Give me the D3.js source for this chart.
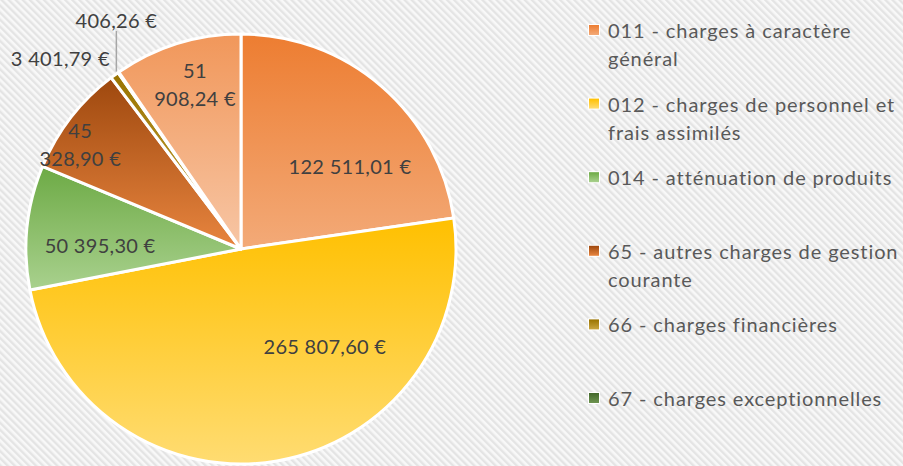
<!DOCTYPE html>
<html>
<head>
<meta charset="utf-8">
<script src="https://cdn.jsdelivr.net/npm/d3@7"></script>
<style>
  html, body { margin: 0; padding: 0; background: #fff; }
  svg { display: block; font-family: Lato, "Open Sans", sans-serif; }
</style>
</head>
<body>
<svg id="chart" width="903" height="466"></svg>
<script>
// données : chapitres budgétaires (dépenses)
const chapters = [
  "011 - charges à caractère général",
  "012 - charges de personnel et frais assimilés",
  "014 - atténuation de produits",
  "65 - autres charges de gestion courante",
  "66 - charges financières",
  "67 - charges exceptionnelles",
  "042 - opérations d'ordre de transfert entre sections"
];
const amounts = [122511.01, 265807.60, 50395.30, 45328.90, 3401.79, 406.26, 51908.24];
const legendLines = [
  ["011 - charges à caractère", "général"],
  ["012 - charges de personnel et", "frais assimilés"],
  ["014 - atténuation de produits"],
  ["65 - autres charges de gestion", "courante"],
  ["66 - charges financières"],
  ["67 - charges exceptionnelles"],
  ["042 - opérations d'ordre de", "transfert entre sections"]
];

// dégradés (haut -> bas)
const gradTop = ["#ED7D31", "#FFC000", "#6DAA45", "#9E480E", "#997300", "#43682B", "#F1975A"];
const gradBottom = ["#F3AA78", "#FFDC72", "#A9D18E", "#E8853F", "#C9A640", "#6E9450", "#F7C6A5"];

// placement des étiquettes (décalage d'angle en degrés, distance au centre, retour à la ligne)
const labelPlacement = [
  { da: 11.8, d: 137, wrap: false, outside: false },
  { da: -31.3, d: 128, wrap: false, outside: false },
  { da: -4.2, d: 141, wrap: false, outside: false },
  { da: -4.6, d: 192, wrap: true, outside: false },
  { da: 1.6, d: 232, wrap: false, outside: "end" },
  { da: 0, d: 0, wrap: false, outside: "leader" },
  { da: 1.7, d: 171, wrap: true, outside: false }
];

const W = 903, H = 466;
const cx = 241, cy = 249, R = 215;

const fr = d3.formatLocale({ decimal: ",", thousands: " ", grouping: [3], currency: ["", " €"] });
const fmt = v => fr.format(",.2f")(v) + " €";

const svg = d3.select("#chart");
const defs = svg.append("defs");

// fond hachuré
const pat = defs.append("pattern")
  .attr("id", "hatch").attr("patternUnits", "userSpaceOnUse")
  .attr("width", 5).attr("height", 5)
  .attr("patternTransform", "rotate(-45)");
pat.append("rect").attr("width", 5).attr("height", 5).attr("fill", "#F8F8F8");
pat.append("rect").attr("width", 2.4).attr("height", 5).attr("fill", "#E4E4E4");
svg.append("rect").attr("width", W).attr("height", H).attr("fill", "url(#hatch)");

chapters.forEach((c, i) => {
  const g = defs.append("linearGradient").attr("id", "grad" + i)
    .attr("x1", 0).attr("y1", 0).attr("x2", 0).attr("y2", 1);
  g.append("stop").attr("offset", "0%").attr("stop-color", gradTop[i]);
  g.append("stop").attr("offset", "100%").attr("stop-color", gradBottom[i]);
});

const data = chapters.map((c, i) => ({ name: c, value: amounts[i], i }));
const pie = d3.pie().value(d => d.value).sort(null);
const arcs = pie(data);
const arc = d3.arc().innerRadius(0).outerRadius(R);

const gPie = svg.append("g").attr("transform", `translate(${cx},${cy})`);
gPie.selectAll("path").data(arcs).join("path")
  .attr("d", arc)
  .attr("fill", d => `url(#grad${d.data.i})`)
  .attr("stroke", "#fff").attr("stroke-width", 3).attr("stroke-linejoin", "round");

// étiquettes
const polar = (a, d) => [Math.sin(a) * d, -Math.cos(a) * d];
const labels = svg.append("g").attr("transform", `translate(${cx},${cy})`)
  .attr("font-size", 20).attr("letter-spacing", 0.3).attr("fill", "#404040");

arcs.forEach((a, k) => {
  const p = labelPlacement[k];
  const mid = (a.startAngle + a.endAngle) / 2;
  const txt = fmt(a.data.value);
  if (p.outside === "leader") {
    const [x0, y0] = polar(mid, R + 1);
    const yTop = -R - 3;
    labels.append("line")
      .attr("x1", x0 - 1.5).attr("y1", y0).attr("x2", x0 - 1.5).attr("y2", yTop)
      .attr("stroke", "#A6A6A6").attr("stroke-width", 1.5);
    labels.append("text").attr("x", x0 - 1.5).attr("y", yTop - 11)
      .attr("text-anchor", "middle").attr("dominant-baseline", "central").text(txt);
    return;
  }
  const [x, y] = polar(mid + p.da * Math.PI / 180, p.d);
  const t = labels.append("text").attr("x", x).attr("y", y)
    .attr("text-anchor", p.outside === "end" ? "end" : "middle")
    .attr("dominant-baseline", "central");
  if (p.wrap) {
    const parts = txt.split(" ");
    const first = parts[0], rest = parts.slice(1).join(" ");
    t.append("tspan").attr("x", x).attr("y", y - 14).text(first);
    t.append("tspan").attr("x", x).attr("y", y + 14).text(rest);
  } else {
    t.text(txt);
  }
});

// légende
const step = 73.6;
const legend = svg.append("g").attr("font-size", 20).attr("letter-spacing", 0.9).attr("fill", "#595959");
legendLines.forEach((lines, i) => {
  const y0 = 30 + i * step;
  const item = legend.append("g");
  item.append("rect").attr("x", 588).attr("y", y0 - 6).attr("width", 12).attr("height", 12).attr("fill", "#fff");
  item.append("rect").attr("x", 589).attr("y", y0 - 5).attr("width", 10).attr("height", 10)
    .attr("fill", `url(#grad${i})`);
  lines.forEach((ln, j) => {
    item.append("text").attr("x", 608).attr("y", y0 + j * 28)
      .attr("dominant-baseline", "central").text(ln);
  });
});
</script>
</body>
</html>
